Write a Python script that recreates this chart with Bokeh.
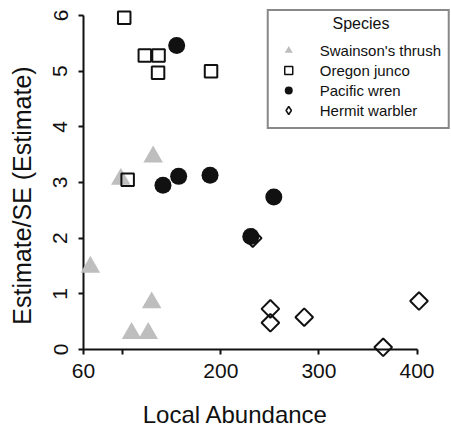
import math
from bokeh.plotting import figure
from bokeh.models import Range1d, FixedTicker, Legend, LegendItem, ColumnDataSource
from bokeh.core.properties import value
from bokeh.embed import file_html
from bokeh.resources import INLINE

# ---- data ----
thrush_x = [67, 98, 131, 129.5, 109, 126]
thrush_y = [1.48, 3.06, 3.46, 0.84, 0.29, 0.29]
junco_x = [101.5, 122.5, 136.5, 136, 190, 105]
junco_y = [5.96, 5.28, 5.28, 4.97, 5.0, 3.05]
wren_x = [155, 141, 157, 189, 230.5, 254]
wren_y = [5.46, 2.95, 3.11, 3.13, 2.03, 2.74]
warbler_x = [232.5, 250.5, 250.5, 285, 365.5, 402]
warbler_y = [2.0, 0.73, 0.48, 0.58, 0.04, 0.87]

species = ["Swainson's thrush", "Oregon junco", "Pacific wren", "Hermit warbler"]
legend_title = "Species"
x_title = "Local Abundance"
y_title = "Estimate/SE (Estimate)"
x_ticks = [60, 100, 200, 300, 400]
x_tick_labels = {60: "60", 100: "", 200: "200", 300: "300", 400: "400"}
y_ticks = [0, 1, 2, 3, 4, 5, 6]

FONT = "Liberation Sans"
INK = "#111111"
GREY = "#bebebe"
W, H = 451, 428
LEFT, BOTTOM, TOP, RIGHT = 83, 79, 9, 1
PX_X = 0.981   # px per x unit
PX_Y = 55.67   # px per y unit
FW, FH = W - LEFT - RIGHT, H - TOP - BOTTOM
x_end = 60 + FW / PX_X
y_end = FH / PX_Y


def sx(px):  # canvas pixel -> x data value (for text placement)
    return 60 + (px - LEFT) / PX_X


def sy(py):  # canvas pixel -> y data value (for text placement)
    return (H - BOTTOM - py) / PX_Y


p = figure(width=W, height=H, x_range=Range1d(60, x_end), y_range=Range1d(0, y_end),
           output_backend="svg", toolbar_location=None,
           min_border_left=LEFT, min_border_right=RIGHT, min_border_top=TOP, min_border_bottom=BOTTOM)
p.outline_line_color = None
p.xgrid.visible = False
p.ygrid.visible = False
p.background_fill_color = "white"

r1 = p.scatter(thrush_x, thrush_y, marker="triangle", size=19.5, fill_color=GREY, line_color=None)
r2 = p.scatter(junco_x, junco_y, marker="square", size=12.5, fill_color=None,
               line_color=INK, line_width=2)
r3 = p.scatter(wren_x, wren_y, marker="circle", size=17, fill_color=INK, line_color=None)
r4 = p.scatter(warbler_x, warbler_y, marker="square", angle=math.pi / 4, size=12.5, fill_color=None,
               line_color=INK, line_width=2)
for r in (r1, r2, r3, r4):
    r.level = "overlay"

# hidden legend proxies (legend glyphs ignore marker angle, so the diamond needs its own)
l1 = p.scatter(thrush_x, thrush_y, marker="triangle", fill_color=GREY, line_color=None, visible=False)
l2 = p.scatter(junco_x, junco_y, marker="square", fill_color=None, line_color=INK, line_width=1.5,
               visible=False)
l3 = p.scatter(wren_x, wren_y, marker="circle", fill_color=INK, line_color=None, visible=False)
l4 = p.scatter(warbler_x, warbler_y, marker="diamond", fill_color=None, line_color=INK,
               line_width=1.5, visible=False)

for ax in (p.xaxis[0], p.yaxis[0]):
    ax.axis_line_width = 2
    ax.axis_line_color = INK
    ax.major_tick_line_width = 2
    ax.major_tick_line_color = INK
    ax.major_tick_in = 0
    ax.major_tick_out = 5
    ax.minor_tick_line_color = None
    ax.major_label_text_font = FONT
    ax.major_label_text_font_size = "21px"
    ax.major_label_text_color = INK

p.xaxis.ticker = FixedTicker(ticks=x_ticks)
p.xaxis.major_label_overrides = x_tick_labels
p.xaxis.bounds = (60, 400)
p.xaxis.major_label_standoff = 9
p.yaxis.ticker = FixedTicker(ticks=y_ticks)
p.yaxis.bounds = (0, 6)
p.yaxis.major_label_orientation = "vertical"
p.yaxis.major_label_standoff = 11

# titles drawn as text glyphs (unclipped overlay level)
xt_src = ColumnDataSource(dict(x=[sx(235)], y=[sy(414)], text=[x_title]))
xt = p.text(x="x", y="y", text="text", source=xt_src, text_font=value(FONT), text_font_size="24px",
            text_align="center", text_baseline="alphabetic", text_color=INK)
yt_src = ColumnDataSource(dict(x=[sx(21)], y=[sy(195)], text=[y_title]))
yt = p.text(x="x", y="y", text="text", source=yt_src, text_font=value(FONT), text_font_size="25px",
            text_align="center", text_baseline="alphabetic", angle=math.pi / 2, text_color=INK)
lt_src = ColumnDataSource(dict(x=[sx(360.5)], y=[sy(22.5)], text=[legend_title]))
lt = p.text(x="x", y="y", text="text", source=lt_src, text_font=value(FONT),
            text_font_size="16px", text_align="center", text_baseline="alphabetic", text_color=INK)
for r in (xt, yt, lt):
    r.level = "overlay"

legend = Legend(items=[LegendItem(label=s, renderers=[r]) for s, r in zip(species, (l1, l2, l3, l4))],
                location="top_right", margin=0, padding=7, spacing=0,
                label_height=20, glyph_height=20, glyph_width=25, label_standoff=19,
                title=" ", title_text_font=FONT, title_text_font_size="16px",
                title_text_font_style="normal", title_standoff=4,
                label_text_font=FONT, label_text_font_size="15px", label_text_color=INK,
                border_line_color=INK, border_line_width=2, background_fill_alpha=0.0)
p.add_layout(legend)

open("out.html", "w").write(file_html(p, INLINE))
